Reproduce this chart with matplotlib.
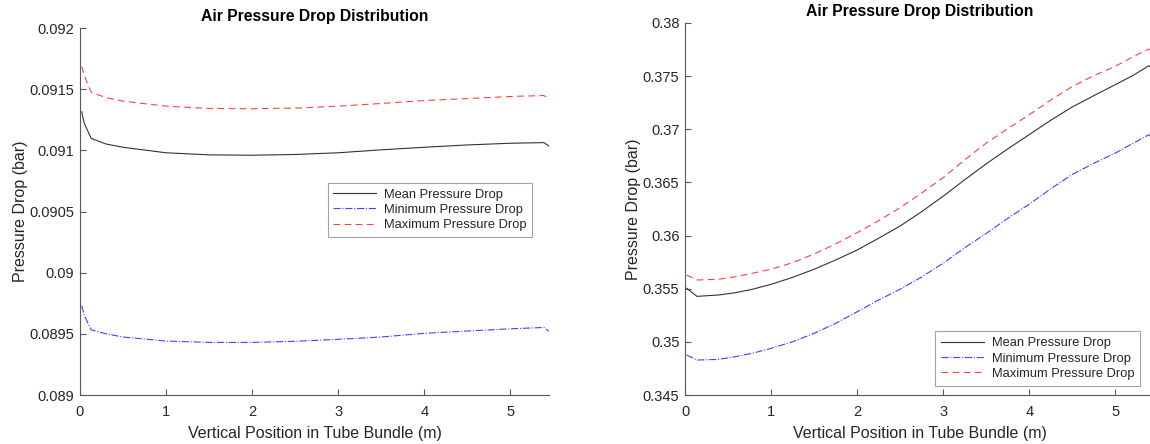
import matplotlib
matplotlib.use("Agg")
import matplotlib.pyplot as plt

plt.rcParams['font.family'] = ['Liberation Sans', 'DejaVu Sans']

# ---- Left panel data (position in m, pressure drop in bar) ----
x_left = [0.02, 0.05, 0.13, 0.3, 0.5, 1.0, 1.5, 2.0, 2.5, 3.0, 3.5, 4.0, 4.5, 5.0, 5.39, 5.45]
mean_left = [0.091315, 0.09122, 0.091098, 0.091052, 0.091025, 0.09098, 0.090963, 0.09096,
             0.090966, 0.09098, 0.091004, 0.091025, 0.091044, 0.091058, 0.091063, 0.091036]
min_left = [0.089731, 0.08965, 0.089532, 0.089501, 0.089474, 0.089441, 0.08943, 0.08943,
            0.089439, 0.089455, 0.089474, 0.089504, 0.089523, 0.089541, 0.089552, 0.089523]
max_left = [0.091686, 0.09161, 0.091475, 0.091431, 0.091402, 0.091361, 0.091342, 0.09134,
            0.091345, 0.091361, 0.091383, 0.091407, 0.091423, 0.09144, 0.091448, 0.091418]

# ---- Right panel data ----
x_right = [0.02, 0.14, 0.39, 0.58, 0.78, 1.0, 1.25, 1.5, 1.75, 2.0, 2.25, 2.5, 2.75,
           3.0, 3.25, 3.5, 3.75, 4.0, 4.25, 4.5, 4.75, 5.0, 5.2, 5.39, 5.45]
mean_right = [0.35504, 0.35428, 0.35441, 0.35462, 0.35494, 0.35541, 0.35607, 0.35683,
              0.35770, 0.35864, 0.35975, 0.36090, 0.36225, 0.36370, 0.36525, 0.36675,
              0.36815, 0.36950, 0.37085, 0.37210, 0.37316, 0.37420, 0.37504, 0.37598, 0.3755]
min_right = [0.34876, 0.34829, 0.34835, 0.34860, 0.34892, 0.34939, 0.35001, 0.35080,
             0.35174, 0.35283, 0.35394, 0.35495, 0.35610, 0.35740, 0.35885, 0.36020,
             0.36162, 0.36295, 0.36440, 0.36575, 0.36680, 0.36776, 0.36865, 0.36949, 0.3690]
max_right = [0.35629, 0.35582, 0.35589, 0.35612, 0.35645, 0.35683, 0.35745, 0.35827,
             0.35921, 0.36027, 0.36140, 0.36263, 0.36400, 0.36545, 0.36712, 0.36870,
             0.37005, 0.37137, 0.37275, 0.37402, 0.37505, 0.37592, 0.37680, 0.37755, 0.3772]

yticks_left = [0.089, 0.0895, 0.09, 0.0905, 0.091, 0.0915, 0.092]
ytick_labels_left = ['0.089', '0.0895', '0.09', '0.0905', '0.091', '0.0915', '0.092']
yticks_right = [0.345, 0.35, 0.355, 0.36, 0.365, 0.37, 0.375, 0.38]
ytick_labels_right = ['0.345', '0.35', '0.355', '0.36', '0.365', '0.37', '0.375', '0.38']
xticks = [0, 1, 2, 3, 4, 5]

title = 'Air Pressure Drop Distribution'
xlabel = 'Vertical Position in Tube Bundle (m)'
ylabel = 'Pressure Drop (bar)'
labels = ['Mean Pressure Drop', 'Minimum Pressure Drop', 'Maximum Pressure Drop']

W, H = 1150, 444
fig = plt.figure(figsize=(W / 100, H / 100), dpi=100)

axc = '#262626'

def style(ax, yt, ytl, ylim):
    ax.set_xlim(0, 5.45)
    ax.set_ylim(*ylim)
    ax.set_xticks(xticks)
    ax.set_yticks(yt)
    ax.set_yticklabels(ytl)
    for s in ['top', 'right']:
        ax.spines[s].set_visible(False)
    for s in ['left', 'bottom']:
        ax.spines[s].set_color('#595959')
        ax.spines[s].set_linewidth(0.8)
    ax.tick_params(direction='in', length=4, width=0.8, colors='#595959',
                   labelcolor=axc, labelsize=10.5)
    ax.tick_params(axis='y', pad=4)
    ax.tick_params(axis='x', pad=7)
    ax.set_xlabel(xlabel, fontsize=11.5, color=axc, labelpad=5)
    ax.set_ylabel(ylabel, fontsize=11.5, color=axc, labelpad=1)
    ax.set_title(title, fontsize=11.3, fontweight='bold', color='black', pad=5)

def draw(ax, x, m, mn, mx):
    ax.plot(x, m, color='#333333', lw=0.8, ls='-', label=labels[0])
    ax.plot(x, mn, color='#4040ff', lw=0.8, ls='-.', label=labels[1])
    ax.plot(x, mx, color='#ff4040', lw=0.8, ls=(0, (6, 4)), label=labels[2])

def legend(ax, loc, anchor):
    leg = ax.legend(loc=loc, bbox_to_anchor=anchor, fontsize=9.3,
                    frameon=True, fancybox=False, handlelength=3.3, borderpad=0.45,
                    labelspacing=0.25, handletextpad=0.6, borderaxespad=0)
    leg.get_frame().set_edgecolor('#8c8c8c')
    leg.get_frame().set_linewidth(0.8)
    for t in leg.get_texts():
        t.set_color(axc)

ax1 = fig.add_axes([80 / W, (H - 395) / H, 469 / W, 367 / H])
draw(ax1, x_left, mean_left, min_left, max_left)
style(ax1, yticks_left, ytick_labels_left, (0.089, 0.092))
legend(ax1, 'upper right', (0.964, 0.578))

ax2 = fig.add_axes([685 / W, (H - 395) / H, 469 / W, 372 / H])
draw(ax2, x_right, mean_right, min_right, max_right)
style(ax2, yticks_right, ytick_labels_right, (0.345, 0.38))
legend(ax2, 'lower right', (0.970, 0.025))

fig.savefig('out.png', dpi=100)
